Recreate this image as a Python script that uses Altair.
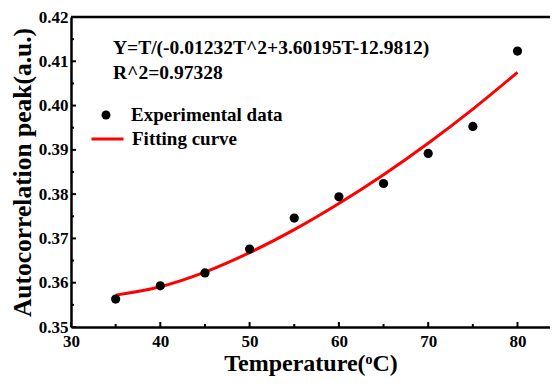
import altair as alt
import pandas as pd

temps = [35, 40, 45, 50, 55, 60, 65, 70, 75, 80]
peak = [0.3563, 0.3593, 0.3622, 0.3676, 0.3746, 0.3794, 0.3824, 0.3892, 0.3953, 0.4123]

# Fitting curve values
fit_t = [35, 40, 45, 50, 55, 60, 65, 70, 75, 80]
fit_y = [0.3572, 0.3591, 0.3624, 0.3668, 0.3720, 0.3779, 0.3844, 0.3915, 0.3992, 0.4075]

x_major = [30, 40, 50, 60, 70, 80]
x_minor = [35, 45, 55, 65, 75]
y_major = [0.35, 0.36, 0.37, 0.38, 0.39, 0.40, 0.41, 0.42]
y_minor = [0.355, 0.365, 0.375, 0.385, 0.395, 0.405, 0.415]

equation = "Y=T/(-0.01232T^2+3.60195T-12.9812)"
rsq = "R^2=0.97328"

FONT = "Liberation Serif"
W, H = 479, 310

xscale = alt.Scale(domain=[30, 83.64], nice=False, zero=False)
yscale = alt.Scale(domain=[0.35, 0.42], nice=False, zero=False)

df_pts = pd.DataFrame({"T": temps, "P": peak, "s": "Experimental data"})
df_fit = pd.DataFrame({"T": fit_t, "P": fit_y, "s": "Fitting curve"})

xaxis = alt.Axis(values=x_major, format="d", ticks=False, grid=False, labelFlush=False,
                 domainWidth=2.5, domainColor="black", labelPadding=6,
                 labelFont=FONT, labelFontWeight="bold", labelFontSize=17, labelColor="black",
                 title="Temperature(ᵒC)", titleFont=FONT, titleFontWeight="bold",
                 titleFontSize=24, titleColor="black", titlePadding=2)
yaxis = alt.Axis(values=y_major, format=".2f", ticks=False, grid=False, labelFlush=False,
                 domainWidth=2.5, domainColor="black", labelPadding=3,
                 labelFont=FONT, labelFontWeight="bold", labelFontSize=17, labelColor="black",
                 title="Autocorrelation peak(a.u.)", titleFont=FONT, titleFontWeight="bold",
                 titleFontSize=25.5, titleColor="black", titlePadding=3)

fit = alt.Chart(df_fit).mark_line(strokeWidth=3, interpolate="monotone").encode(
    x=alt.X("T:Q", scale=xscale, axis=xaxis),
    y=alt.Y("P:Q", scale=yscale, axis=yaxis),
    stroke=alt.Stroke("s:N", scale=alt.Scale(domain=["Fitting curve"], range=["red"]),
                      legend=alt.Legend(title=None, orient="none", legendX=19, legendY=104.5,
                                        symbolType="stroke", symbolSize=1024,
                                        symbolStrokeWidth=3, labelOffset=7)),
)

pts = alt.Chart(df_pts).mark_circle(size=85, opacity=1).encode(
    x=alt.X("T:Q", scale=xscale, axis=xaxis),
    y=alt.Y("P:Q", scale=yscale, axis=yaxis),
    fill=alt.Fill("s:N", scale=alt.Scale(domain=["Experimental data"], range=["black"]),
                  legend=alt.Legend(title=None, orient="none", legendX=25.5, legendY=88.5,
                                    symbolType="circle", symbolSize=80, symbolStrokeWidth=0,
                                    labelOffset=15.5)),
)

xmaj = alt.Chart(pd.DataFrame({"T": x_major})).mark_rule(color="black", strokeWidth=2).encode(
    x=alt.X("T:Q", scale=xscale, axis=xaxis), y=alt.value(H), y2=alt.value(H - 5))
xmin = alt.Chart(pd.DataFrame({"T": x_minor})).mark_rule(color="black", strokeWidth=2).encode(
    x=alt.X("T:Q", scale=xscale, axis=xaxis), y=alt.value(H), y2=alt.value(H - 3))
ymaj = alt.Chart(pd.DataFrame({"P": y_major})).mark_rule(color="black", strokeWidth=2).encode(
    y=alt.Y("P:Q", scale=yscale, axis=yaxis), x=alt.value(0), x2=alt.value(5))
ymin = alt.Chart(pd.DataFrame({"P": y_minor})).mark_rule(color="black", strokeWidth=2).encode(
    y=alt.Y("P:Q", scale=yscale, axis=yaxis), x=alt.value(0), x2=alt.value(3))

top = alt.Chart(pd.DataFrame({"a": [0]})).mark_rule(color="black", strokeWidth=2.5).encode(
    x=alt.value(0), x2=alt.value(W), y=alt.value(0))

eq = alt.Chart(pd.DataFrame({"t": [equation]})).mark_text(
    align="left", baseline="middle", font=FONT, fontWeight="bold", fontSize=19.5, color="black"
).encode(text="t:N", x=alt.value(42), y=alt.value(31))
r2 = alt.Chart(pd.DataFrame({"t": [rsq]})).mark_text(
    align="left", baseline="middle", font=FONT, fontWeight="bold", fontSize=19.5, color="black"
).encode(text="t:N", x=alt.value(42), y=alt.value(56))

chart = alt.layer(fit, xmaj, xmin, ymaj, ymin, top, pts, eq, r2).resolve_scale(
    fill="independent", stroke="independent"
).properties(
    width=W, height=H,
    autosize=alt.AutoSizeParams(type="none"),
    padding={"left": 63, "top": 9, "right": 0, "bottom": 50},
).configure_view(stroke=None).configure_legend(
    labelFont=FONT, labelFontWeight="bold", labelFontSize=19, labelColor="black"
)

chart.save("out.html", embed_options={"renderer": "svg", "actions": False})
